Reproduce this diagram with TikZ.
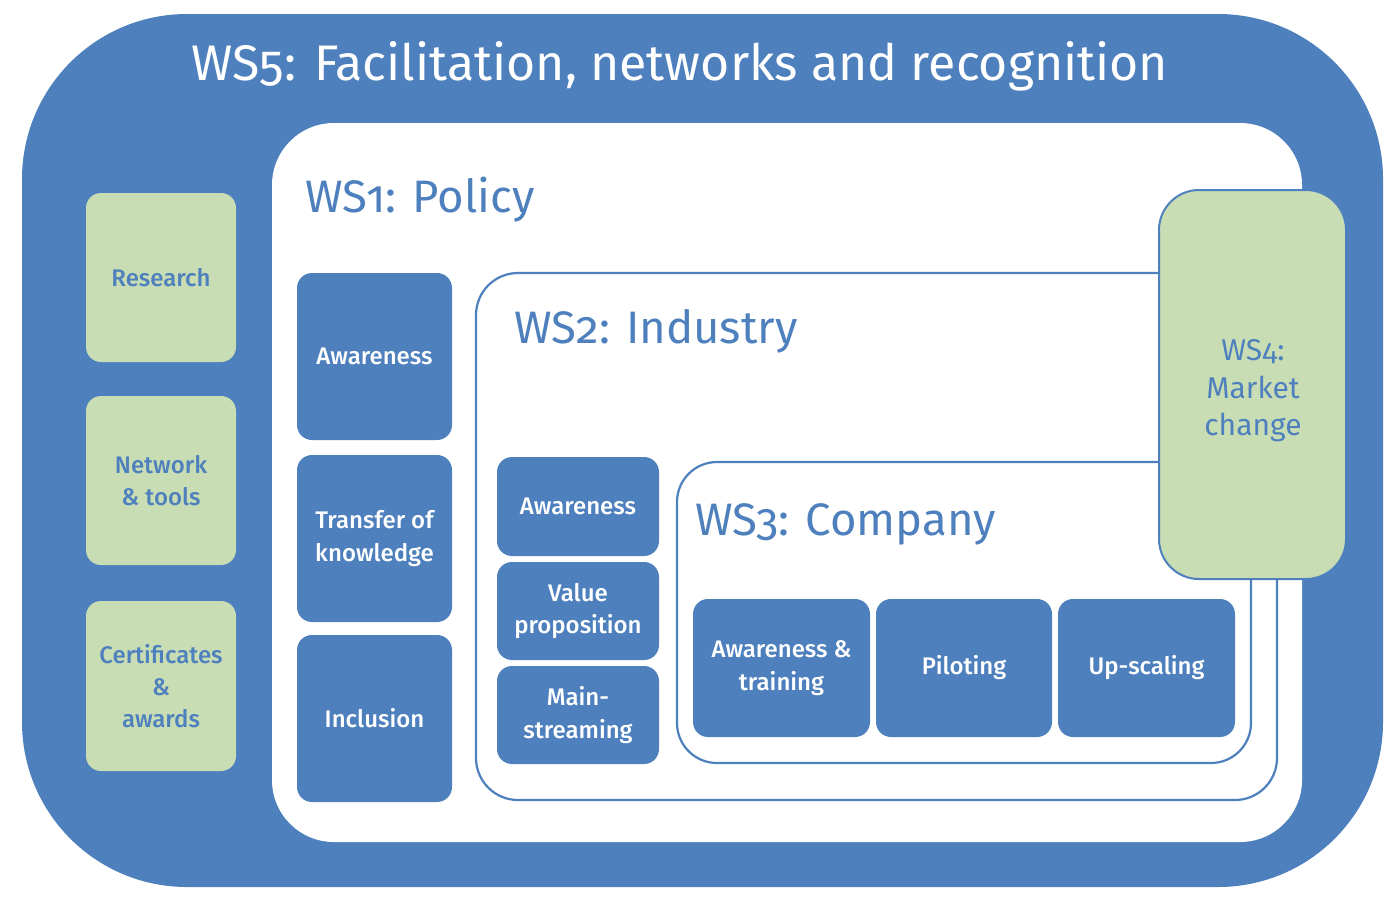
\documentclass[tikz,border=0pt]{standalone}
\usepackage{fontspec}
\setmainfont{Fira Sans}[Numbers=OldStyle]
\newfontfamily\boxfont{Fira Sans Medium}[Numbers=OldStyle]
\usetikzlibrary{positioning}
\definecolor{wsblue}{HTML}{4D80BD}
\definecolor{wsgreen}{HTML}{C9DDB5}

\begin{document}
\begin{tikzpicture}[
  x=1pt,y=-1pt,
  bigtitle/.style={font=\fontsize{50}{60}\selectfont,text=white},
  wstitle/.style={font=\fontsize{45.5}{50}\selectfont,text=wsblue,anchor=base west},
  bluebox/.style={fill=wsblue,rounded corners=15pt,text=white,align=center,
    font=\boxfont\fontsize{24}{32.5}\selectfont,inner sep=0pt},
  greenbox/.style={fill=wsgreen,rounded corners=15pt,text=wsblue,align=center,
    font=\boxfont\fontsize{24}{32}\selectfont,inner sep=0pt},
  frame/.style={draw=wsblue,line width=2.2pt,fill=white}
]
\useasboundingbox (0,0) rectangle (1396,898);

% WS5 background
\fill[wsblue,rounded corners=165pt] (22,14) rectangle (1383,887);
\node[bigtitle] (ws5) at (680,66) {WS5: Facilitation, networks and recognition};
\fill[white,rounded corners=62pt] (272,123) rectangle (1302,842);

% WS5 activities
\node[greenbox,minimum width=150pt,minimum height=169pt] (research) at (161,277.5) {Research};
\node[greenbox,minimum width=150pt,minimum height=169pt] (network) at (161,480.5) {Network\\\& tools};
\node[greenbox,minimum width=150pt,minimum height=170pt] (certif) at (161,686) {Certificates\\\&\\awards};

% WS1 panel
\node[wstitle] (ws1) at (302,212) {WS1: Policy};
\node[bluebox,minimum width=155pt,minimum height=167pt] (awa1) at (374.5,356.5) {Awareness};
\node[bluebox,minimum width=155pt,minimum height=167pt] (transfer) at (374.5,538.5) {Transfer of\\knowledge};
\node[bluebox,minimum width=155pt,minimum height=167pt] (inclusion) at (374.5,718.5) {Inclusion};

% WS2 panel
\draw[frame,rounded corners=42pt] (476,273) rectangle (1277,800);
\node[wstitle] (ws2) at (511,343) {WS2: Industry};
\node[bluebox,minimum width=162pt,minimum height=99pt] (awa2) at (578,506.5) {Awareness};
\node[bluebox,minimum width=162pt,minimum height=98pt] (value) at (578,611) {Value\\proposition};
\node[bluebox,minimum width=162pt,minimum height=98pt] (mainstream) at (578,715) {Main-\\streaming};

% WS3 panel
\draw[frame,rounded corners=40pt] (677,462) rectangle (1251,763);
\node[wstitle] (ws3) at (692,535) {WS3: Company};
\node[bluebox,minimum width=177pt,minimum height=138pt] (training) at (781.5,668) {Awareness \&\\training};
\node[bluebox,minimum width=176pt,minimum height=138pt] (piloting) at (964,668) {Piloting};
\node[bluebox,minimum width=177pt,minimum height=138pt] (upscaling) at (1146.5,668) {Up-scaling};

% WS4 on top
\node[greenbox,draw=wsblue,line width=2pt,rounded corners=40pt,minimum width=187pt,minimum height=389pt] (ws4) at (1252.5,384.5) {};
\node[text=wsblue,align=center,font=\fontsize{30}{37.5}\selectfont] (ws4text) at (1253,391) {WS4:\\Market\\change};
\end{tikzpicture}
\end{document}
